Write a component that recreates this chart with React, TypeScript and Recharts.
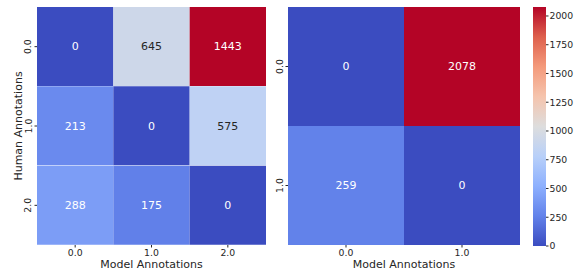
import React from "react";
import { BarChart, Bar, XAxis, YAxis, Cell, LabelList, Label } from "recharts";

// left matrix: human (rows) x model (cols), three classes
const humanLabels3 = ["0.0", "1.0", "2.0"];
const modelLabels3 = ["0.0", "1.0", "2.0"];
const counts3 = [
  [0, 645, 1443],
  [213, 0, 575],
  [288, 175, 0],
];

// right matrix: two classes
const humanLabels2 = ["0.0", "1.0"];
const modelLabels2 = ["0.0", "1.0"];
const counts2 = [
  [0, 2078],
  [259, 0],
];

const colorbarTicks = [0, 250, 500, 750, 1000, 1250, 1500, 1750, 2000];

const FONT = "DejaVu Sans";
const INK = "#262626";

// matplotlib coolwarm, sampled every 1/8
const coolwarmStops = [
  [59, 76, 192],
  [98, 130, 234],
  [141, 176, 254],
  [184, 208, 249],
  [221, 221, 221],
  [245, 196, 173],
  [244, 154, 123],
  [222, 96, 77],
  [180, 4, 38],
];

const coolwarmRgb = (t: number) => {
  const c = Math.max(0, Math.min(1, t)) * (coolwarmStops.length - 1);
  const i = Math.min(Math.floor(c), coolwarmStops.length - 2);
  const f = c - i;
  const a = coolwarmStops[i];
  const b = coolwarmStops[i + 1];
  return a.map((v, k) => Math.round(v + (b[k] - v) * f));
};

const coolwarm = (t: number) => {
  const [r, g, b] = coolwarmRgb(t);
  return `rgb(${r},${g},${b})`;
};

// seaborn picks dark or white text from the cell's luminance
const textColor = (t: number) => {
  const lin = coolwarmRgb(t).map((v) => {
    const s = v / 255;
    return s <= 0.03928 ? s / 12.92 : Math.pow((s + 0.055) / 1.055, 2.4);
  });
  const lum = 0.2126 * lin[0] + 0.7152 * lin[1] + 0.0722 * lin[2];
  return lum > 0.408 ? INK : "#ffffff";
};

const buildRows = (labels: string[], counts: number[][]) =>
  labels.map((row, i) => {
    const r: Record<string, number | string> = { row };
    counts[i].forEach((n, j) => {
      r[`w${j}`] = 1;
      r[`n${j}`] = n;
    });
    return r;
  });

const RotatedTick = (props: any) => {
  const { x, y, payload } = props;
  const bx = x - 2;
  return (
    <text
      x={bx}
      y={y}
      transform={`rotate(-90 ${bx} ${y})`}
      textAnchor="middle"
      fill={INK}
      fontSize={9.3}
      fontFamily={FONT}
    >
      {payload.value}
    </text>
  );
};

interface HeatmapProps {
  rowLabels: string[];
  colLabels: string[];
  counts: number[][];
  width: number;
  yAxisWidth: number;
  marginRight: number;
  yTitle?: string;
}

const Heatmap: React.FC<HeatmapProps> = ({
  rowLabels,
  colLabels,
  counts,
  width,
  yAxisWidth,
  marginRight,
  yTitle,
}) => {
  const vmax = Math.max(...counts.flat());
  const data = buildRows(rowLabels, counts);
  return (
    <BarChart
      width={width}
      height={271}
      data={data}
      layout="vertical"
      margin={{ top: 7, right: marginRight, bottom: 0, left: 0 }}
      barCategoryGap={0}
    >
      <XAxis
        type="number"
        domain={[0, colLabels.length]}
        ticks={colLabels.map((_, j) => j + 0.5)}
        tickFormatter={(v: number) => colLabels[Math.floor(v)]}
        interval={0}
        height={26}
        axisLine={false}
        tickSize={2.5}
        tickMargin={1.5}
        tickLine={{ stroke: INK }}
        tick={{ fill: INK, fontSize: 9.3, fontFamily: FONT }}
      >
        <Label
          content={(p: any) => {
            const vb = p.viewBox;
            return (
              <text
                x={vb.x + vb.width / 2}
                y={vb.y + 22.5}
                textAnchor="middle"
                fill={INK}
                fontSize={11}
                fontFamily={FONT}
              >
                Model Annotations
              </text>
            );
          }}
        />
      </XAxis>
      <YAxis
        type="category"
        dataKey="row"
        width={yAxisWidth}
        axisLine={false}
        tickSize={2.5}
        tickMargin={1}
        tickLine={{ stroke: INK }}
        tick={<RotatedTick />}
      >
        {yTitle && (
          <Label
            content={(p: any) => {
              const vb = p.viewBox;
              const cy = vb.y + vb.height / 2;
              return (
                <text
                  x={22}
                  y={cy}
                  transform={`rotate(-90 22 ${cy})`}
                  textAnchor="middle"
                  fill={INK}
                  fontSize={11}
                  fontFamily={FONT}
                >
                  {yTitle}
                </text>
              );
            }}
          />
        )}
      </YAxis>
      {colLabels.map((_, j) => (
        <Bar key={j} dataKey={`w${j}`} stackId="m" isAnimationActive={false}>
          {data.map((_, i) => (
            <Cell key={i} fill={coolwarm(counts[i][j] / vmax)} />
          ))}
          <LabelList
            dataKey={`n${j}`}
            content={(p: any) => {
              const n = Number(p.value);
              return (
                <text
                  x={p.x + p.width / 2}
                  y={p.y + p.height / 2}
                  dy="0.36em"
                  textAnchor="middle"
                  fill={textColor(n / vmax)}
                  fontSize={11}
                  fontFamily={FONT}
                >
                  {n}
                </text>
              );
            }}
          />
        </Bar>
      ))}
    </BarChart>
  );
};

const Colorbar: React.FC<{ vmax: number }> = ({ vmax }) => (
  <BarChart
    width={51}
    height={271}
    data={[{ name: "cb", v: vmax }]}
    margin={{ top: 7, right: 0, bottom: 25, left: 8 }}
    barCategoryGap={0}
  >
    <defs>
      <linearGradient id="coolwarmGrad" x1="0" y1="1" x2="0" y2="0">
        {coolwarmStops.map((_, k) => {
          const t = k / (coolwarmStops.length - 1);
          return <stop key={k} offset={t} stopColor={coolwarm(t)} />;
        })}
      </linearGradient>
    </defs>
    <XAxis dataKey="name" hide />
    <YAxis
      orientation="right"
      type="number"
      domain={[0, vmax]}
      ticks={colorbarTicks}
      interval={0}
      width={30}
      axisLine={false}
      tickSize={2.5}
      tickMargin={1}
      tickLine={{ stroke: INK }}
      tick={{ fill: INK, fontSize: 9.3, fontFamily: FONT }}
    />
    <Bar dataKey="v" fill="url(#coolwarmGrad)" isAnimationActive={false} />
  </BarChart>
);

export default function App() {
  const vmax2 = Math.max(...counts2.flat());
  return (
    <div
      style={{
        position: "absolute",
        left: 0,
        top: 0,
        width: 576,
        height: 271,
        background: "#ffffff",
      }}
    >
      <div style={{ position: "absolute", left: 0, top: 0 }}>
        <Heatmap
          rowLabels={humanLabels3}
          colLabels={modelLabels3}
          counts={counts3}
          width={270}
          yAxisWidth={37}
          marginRight={4}
          yTitle="Human Annotations"
        />
      </div>
      <div style={{ position: "absolute", left: 270, top: 0 }}>
        <Heatmap
          rowLabels={humanLabels2}
          colLabels={modelLabels2}
          counts={counts2}
          width={255}
          yAxisWidth={18}
          marginRight={5}
        />
      </div>
      <div style={{ position: "absolute", left: 525, top: 0 }}>
        <Colorbar vmax={vmax2} />
      </div>
    </div>
  );
}
